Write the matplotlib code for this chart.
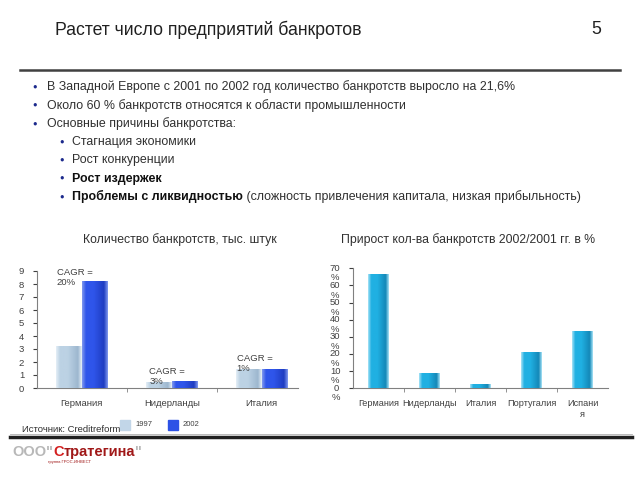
import numpy as np
import matplotlib
matplotlib.use("Agg")
import matplotlib.pyplot as plt
from matplotlib.lines import Line2D
from matplotlib.colors import LinearSegmentedColormap
from matplotlib.transforms import ScaledTranslation

plt.rcParams['font.family'] = ['Liberation Sans', 'DejaVu Sans']

# данные
countries_left = ["Германия", "Нидерланды", "Италия"]
years = ["1997", "2002"]
bankr_1997 = [3.25, 0.45, 1.45]
bankr_2002 = [8.2, 0.55, 1.5]
cagr = ["CAGR =\n20%", "CAGR =\n3%", "CAGR =\n1%"]
yticks_left = list(range(0, 10))

countries_right = ["Германия", "Нидерланды", "Италия", "Португалия", "Испани\nя"]
growth = [66.5, 8.9, 2.3, 21.0, 33.6]
yticks_right = list(range(0, 80, 10))

bullets = [
    ("В Западной Европе с 2001 по 2002 год количество банкротств выросло на 21,6%", None, 0),
    ("Около 60 % банкротств относятся к области промышленности", None, 0),
    ("Основные причины банкротства:", None, 0),
    ("Стагнация экономики", None, 1),
    ("Рост конкуренции", None, 1),
    ("Рост издержек", None, 1),
    ("Проблемы с ликвидностью", " (сложность привлечения капитала, низкая прибыльность)", 1),
]
bold_items = {"Рост издержек", "Проблемы с ликвидностью"}

W, H = 640, 480
fig = plt.figure(figsize=(6.4, 4.8), dpi=100)


def fx(x):
    return x / W


def fy(y):
    return 1 - y / H


def gradient_bars(ax, bars, c_edge, c_mid, c_dark):
    cmap = LinearSegmentedColormap.from_list(
        "g", [(0, c_edge), (0.15, c_mid), (0.45, c_mid), (0.85, c_dark), (1, c_edge)])
    grad = np.linspace(0, 1, 64).reshape(1, -1)
    for b in bars:
        x0, y0 = b.get_x(), b.get_y()
        im = ax.imshow(grad, cmap=cmap, aspect='auto', zorder=3,
                       extent=[x0, x0 + b.get_width(), y0, y0 + b.get_height()])
        im.set_clip_path(b)
    ax.set_aspect('auto')


# заголовок
fig.text(fx(55), fy(30), "Растет число предприятий банкротов", fontsize=12.7,
         color="#202020", va="center", ha="left")
fig.text(fx(601), fy(29), "5", fontsize=12.7, color="#202020", va="center", ha="right")
fig.add_artist(Line2D([fx(20), fx(620)], [fy(70), fy(70)], color="#404040", lw=1.8))

# пункты
fig.canvas.draw()
renderer = fig.canvas.get_renderer()
y = 87
for main, rest, lvl in bullets:
    bx = 35 if lvl == 0 else 62
    tx = 47 if lvl == 0 else 72
    fig.text(fx(bx), fy(y), "●", fontsize=5.5, color="#1c2a8c", va="center", ha="center")
    weight = "bold" if main in bold_items else "normal"
    color = "#101010" if weight == "bold" else "#303030"
    t = fig.text(fx(tx), fy(y), main, fontsize=8.95, color=color, weight=weight,
                 va="center", ha="left")
    if rest:
        bb = t.get_window_extent(renderer)
        fig.text(bb.x1 / (fig.dpi * 6.4), fy(y), rest, fontsize=8.95, color="#303030",
                 va="center", ha="left")
    y += 18.3

# подписи диаграмм
fig.text(fx(180), fy(240), "Количество банкротств, тыс. штук", fontsize=8.8,
         color="#303030", ha="center", va="center")
fig.text(fx(468), fy(240), "Прирост кол-ва банкротств 2002/2001 гг. в %", fontsize=8.8,
         color="#303030", ha="center", va="center")

# левая диаграмма
ax1 = fig.add_axes([fx(36.7), fy(388), (306.7 - 36.7) / W, (388 - 271) / H])
x = np.arange(len(countries_left))
bw = 0.28
b1 = ax1.bar(x - bw / 2 - 0.005, bankr_1997, bw, color="#b4cce0", zorder=2)
b2 = ax1.bar(x + bw / 2 + 0.005, bankr_2002, bw, color="#2d52e6", zorder=2)
gradient_bars(ax1, b1, "#e4eef6", "#bcd2e4", "#9db7cf")
gradient_bars(ax1, b2, "#7f98ee", "#2f55ea", "#1f3dc2")
ax1.set_xlim(-0.5, 2.5)
ax1.set_ylim(0, 9)
ax1.set_yticks(yticks_left)
ax1.set_yticklabels([str(v) for v in yticks_left])
ax1.set_xticks(x)
ax1.set_xticklabels(countries_left)
ax1.set_xticks([0.5, 1.5], minor=True)
ax1.tick_params(axis='x', which='major', length=0, pad=8, labelsize=6.8, colors="#404040")
ax1.tick_params(axis='x', which='minor', length=3, direction='out', color="#808080")
ax1.tick_params(axis='y', length=3, direction='out', pad=6, labelsize=6.8,
                colors="#404040")
for s in ["top", "right"]:
    ax1.spines[s].set_visible(False)
for s in ["left", "bottom"]:
    ax1.spines[s].set_color("#808080")
ax1.spines["bottom"].set_bounds(-0.5, 2.4)
cagr_pos = [(-0.28, 9.2), (0.75, 1.65), (1.72, 2.6)]
for (cx, cy), lab in zip(cagr_pos, cagr):
    ax1.text(cx, cy, lab, fontsize=6.8, color="#404040", va="top", ha="left",
             linespacing=1.15, zorder=5, clip_on=False)

# легенда левой диаграммы
fig.patches.append(plt.Rectangle((fx(120), fy(430)), 10 / W, 10 / H,
                                 transform=fig.transFigure, color="#c2d6e8"))
fig.text(fx(135), fy(424), years[0], fontsize=5.5, color="#404040", va="center")
fig.patches.append(plt.Rectangle((fx(168), fy(430)), 10 / W, 10 / H,
                                 transform=fig.transFigure, color="#2d52e6"))
fig.text(fx(183), fy(424), years[1], fontsize=5.5, color="#404040", va="center")
fig.text(fx(22), fy(430), "Источник: Creditreform", fontsize=6.8, color="#303030",
         va="center")

# правая диаграмма
ax2 = fig.add_axes([fx(353), fy(388.3), (608 - 353) / W, 120 / H])
x2 = np.arange(len(countries_right))
b3 = ax2.bar(x2, growth, 0.4, color="#1aa9dd", zorder=2)
gradient_bars(ax2, b3, "#a6e2f6", "#20b0e2", "#1488b8")
ax2.set_xlim(-0.5, 4.5)
ax2.set_ylim(0, 70)
ax2.set_yticks(yticks_right)
ax2.set_yticklabels([f"{v}\n%" for v in yticks_right], va="top")
ax2.set_xticks(x2)
ax2.set_xticklabels(countries_right, va="top")
ax2.set_xticks([0.5, 1.5, 2.5, 3.5], minor=True)
ax2.tick_params(axis='x', which='major', length=0, pad=8, labelsize=6.6, colors="#404040")
ax2.tick_params(axis='x', which='minor', length=3, direction='out', color="#808080")
ax2.tick_params(axis='y', length=3, direction='out', pad=6, labelsize=6.8,
                colors="#404040")
for s in ["top", "right"]:
    ax2.spines[s].set_visible(False)
for s in ["left", "bottom"]:
    ax2.spines[s].set_color("#808080")
# сдвигаем подписи оси Y, чтобы число стояло у деления
for lab in ax2.get_yticklabels():
    lab.set_linespacing(1.1)
    lab.set_multialignment("center")
    lab.set_transform(lab.get_transform() + ScaledTranslation(0, 3.3 / 72, fig.dpi_scale_trans))

# нижняя линия и логотип
fig.add_artist(Line2D([fx(10), fx(632)], [fy(437), fy(437)], color="#202020", lw=2.5))
fig.add_artist(Line2D([fx(10), fx(632)], [fy(434), fy(434)], color="#b0b0b0", lw=0.6))
fig.canvas.draw()
pieces = [("ООО\"", "#b8b8b8"), ("С", "#d42020"), ("тратегина", "#a01818"), ("\"", "#b8b8b8")]
px = 12 / W
for txt, col in pieces:
    t = fig.text(px, fy(452), txt, fontsize=10.5, weight="bold", color=col, va="center",
                 ha="left")
    bb = t.get_window_extent(renderer)
    px = bb.x1 / (fig.dpi * 6.4)
fig.text(fx(48), fy(462), "группа ГРОС-ИНВЕСТ", fontsize=3, color="#a01818", va="center")

fig.savefig("out.png", dpi=100)
